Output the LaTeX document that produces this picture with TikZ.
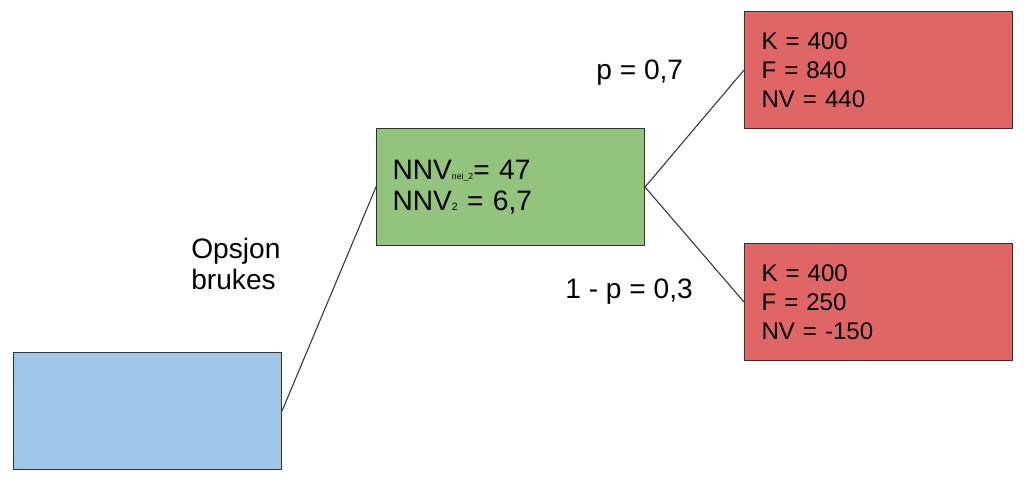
\documentclass[tikz,border=0pt]{standalone}
\usepackage{fontspec}
\setmainfont{Liberation Sans}
\definecolor{boxblue}{HTML}{9FC5E8}
\definecolor{boxgreen}{HTML}{93C47D}
\definecolor{boxred}{HTML}{E06666}
\definecolor{edgegray}{HTML}{333333}
\begin{document}
\begin{tikzpicture}[x=0.02cm,y=-0.02cm,
  box/.style={draw=edgegray,line width=0.6pt,minimum width=5.36cm,minimum height=2.34cm,
    inner ysep=0pt,align=left,anchor=north west,text width=4.68cm},
  redbox/.style={box,fill=boxred,inner xsep=0.34cm,font=\fontsize{13.7}{16.4}\selectfont},
  greenbox/.style={box,fill=boxgreen,inner xsep=0.32cm,text width=4.72cm,font=\fontsize{16}{17.6}\selectfont},
  lbl/.style={font=\fontsize{16}{18.1}\selectfont,align=left,inner sep=0pt},
  conn/.style={draw=edgegray,line width=0.6pt}]
\useasboundingbox (0,0) rectangle (1024,480);
\node[box,fill=boxblue] (blue) at (13,352) {};
\node[greenbox] (green) at (376,128) {NNV{\fontsize{5}{5}\selectfont nei\_2}= 47\\NNV{\fontsize{6}{6}\selectfont 2} = 6,7};
\node[redbox] (red1) at (744,11) {K = 400\\F = 840\\NV = 440};
\node[redbox] (red2) at (744,243) {K = 400\\F = 250\\NV = -150};
\draw[conn] (blue.east) -- (green.west);
\draw[conn] (green.east) -- (red1.west);
\draw[conn] (green.east) -- (red2.west);
\node[lbl,anchor=west] (p1) at (596,73) {p = 0,7};
\node[lbl,anchor=west] (p2) at (565,292) {1 - p = 0,3};
\node[lbl,anchor=west] (opt) at (191,264) {Opsjon\\brukes};
\end{tikzpicture}
\end{document}
